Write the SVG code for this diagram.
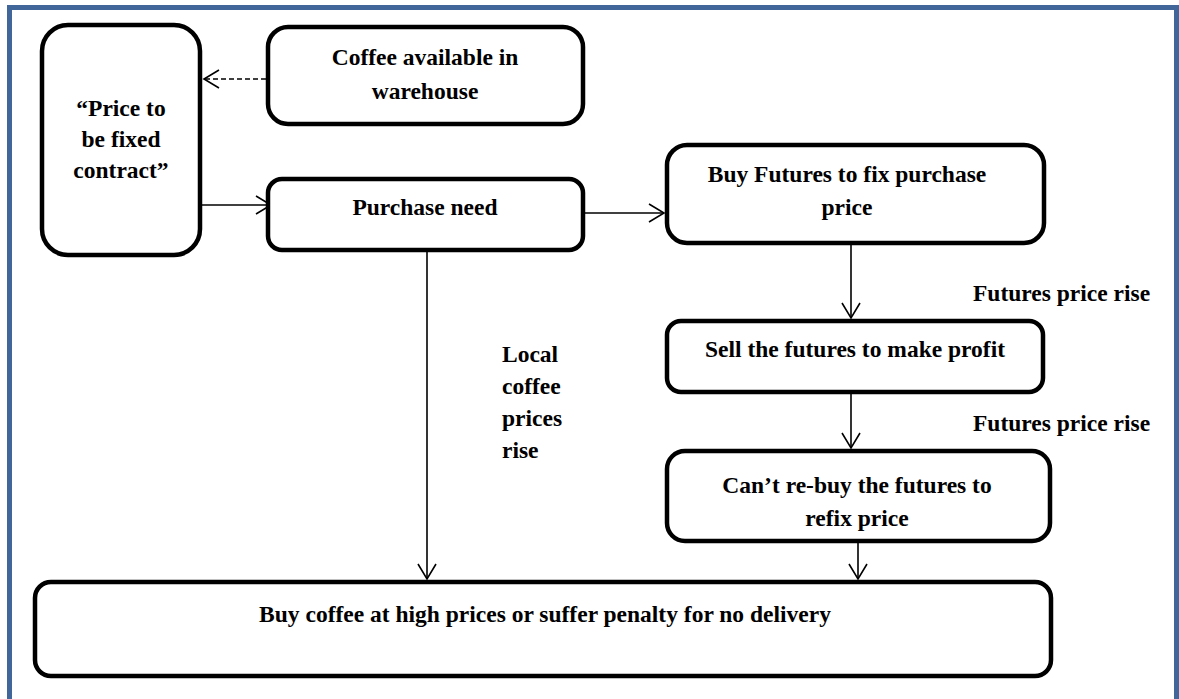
<svg xmlns="http://www.w3.org/2000/svg" width="1179" height="699" viewBox="0 0 1179 699">
  <defs>
    <style>
      .box { fill: #ffffff; stroke: #000000; stroke-width: 4.5; }
      .lbl { font-family: "Liberation Serif", "Times New Roman", serif; font-weight: bold; font-size: 23.5px; fill: #000000; }
      .mid { text-anchor: middle; }
      .wire { stroke: #000000; stroke-width: 1.6; fill: none; }
      .dash { stroke-dasharray: 5 3; }
    </style>
    <marker id="open" markerWidth="20" markerHeight="20" refX="16" refY="10" orient="auto" markerUnits="userSpaceOnUse">
      <path d="M1,1 L16,10 L1,19" fill="none" stroke="#000000" stroke-width="1.6"/>
    </marker>
  </defs>

  <rect width="1179" height="699" fill="#ffffff"/>
  <!-- page frame -->
  <rect x="9.5" y="7.5" width="1167" height="700" fill="none" stroke="#41669a" stroke-width="5"/>

  <g id="connectors">
    <line class="wire dash" x1="266" y1="79" x2="204" y2="79" marker-end="url(#open)"/>
    <line class="wire" x1="202" y1="205" x2="271" y2="205" marker-end="url(#open)"/>
    <line class="wire" x1="585" y1="213" x2="664" y2="213" marker-end="url(#open)"/>
    <line class="wire" x1="851" y1="245" x2="851" y2="318" marker-end="url(#open)"/>
    <line class="wire" x1="851" y1="394" x2="851" y2="448" marker-end="url(#open)"/>
    <line class="wire" x1="427" y1="252" x2="427" y2="579" marker-end="url(#open)"/>
    <line class="wire" x1="858" y1="543" x2="858" y2="579" marker-end="url(#open)"/>
    <text class="lbl" x="973" y="301">Futures price rise</text>
    <text class="lbl" x="973" y="431">Futures price rise</text>
    <text class="lbl" x="502" y="362">Local</text>
    <text class="lbl" x="502" y="394">coffee</text>
    <text class="lbl" x="502" y="426">prices</text>
    <text class="lbl" x="502" y="458">rise</text>
  </g>

  <g id="price-contract">
    <rect class="box" x="42" y="25" width="158" height="230" rx="26"/>
    <text class="lbl mid" x="121" y="116">“Price to</text>
    <text class="lbl mid" x="121" y="147">be fixed</text>
    <text class="lbl mid" x="121" y="178">contract”</text>
  </g>

  <g id="warehouse">
    <rect class="box" x="268" y="27" width="315" height="97" rx="20"/>
    <text class="lbl mid" x="425" y="65">Coffee available in</text>
    <text class="lbl mid" x="425" y="99">warehouse</text>
  </g>

  <g id="purchase-need">
    <rect class="box" x="268" y="179" width="315" height="71" rx="14"/>
    <text class="lbl mid" x="425" y="215">Purchase need</text>
  </g>

  <g id="buy-futures">
    <rect class="box" x="667" y="145" width="377" height="98" rx="20"/>
    <text class="lbl mid" x="847" y="182">Buy Futures to fix purchase</text>
    <text class="lbl mid" x="847" y="215">price</text>
  </g>

  <g id="sell-futures">
    <rect class="box" x="667" y="321" width="376" height="71" rx="14"/>
    <text class="lbl mid" x="855" y="357">Sell the futures to make profit</text>
  </g>

  <g id="rebuy-futures">
    <rect class="box" x="667" y="451" width="383" height="90" rx="18"/>
    <text class="lbl mid" x="857" y="493">Can’t re-buy the futures to</text>
    <text class="lbl mid" x="857" y="526">refix price</text>
  </g>

  <g id="outcome">
    <rect class="box" x="35" y="582" width="1016" height="94" rx="16"/>
    <text class="lbl mid" x="545" y="622">Buy coffee at high prices or suffer penalty for no delivery</text>
  </g>
</svg>
